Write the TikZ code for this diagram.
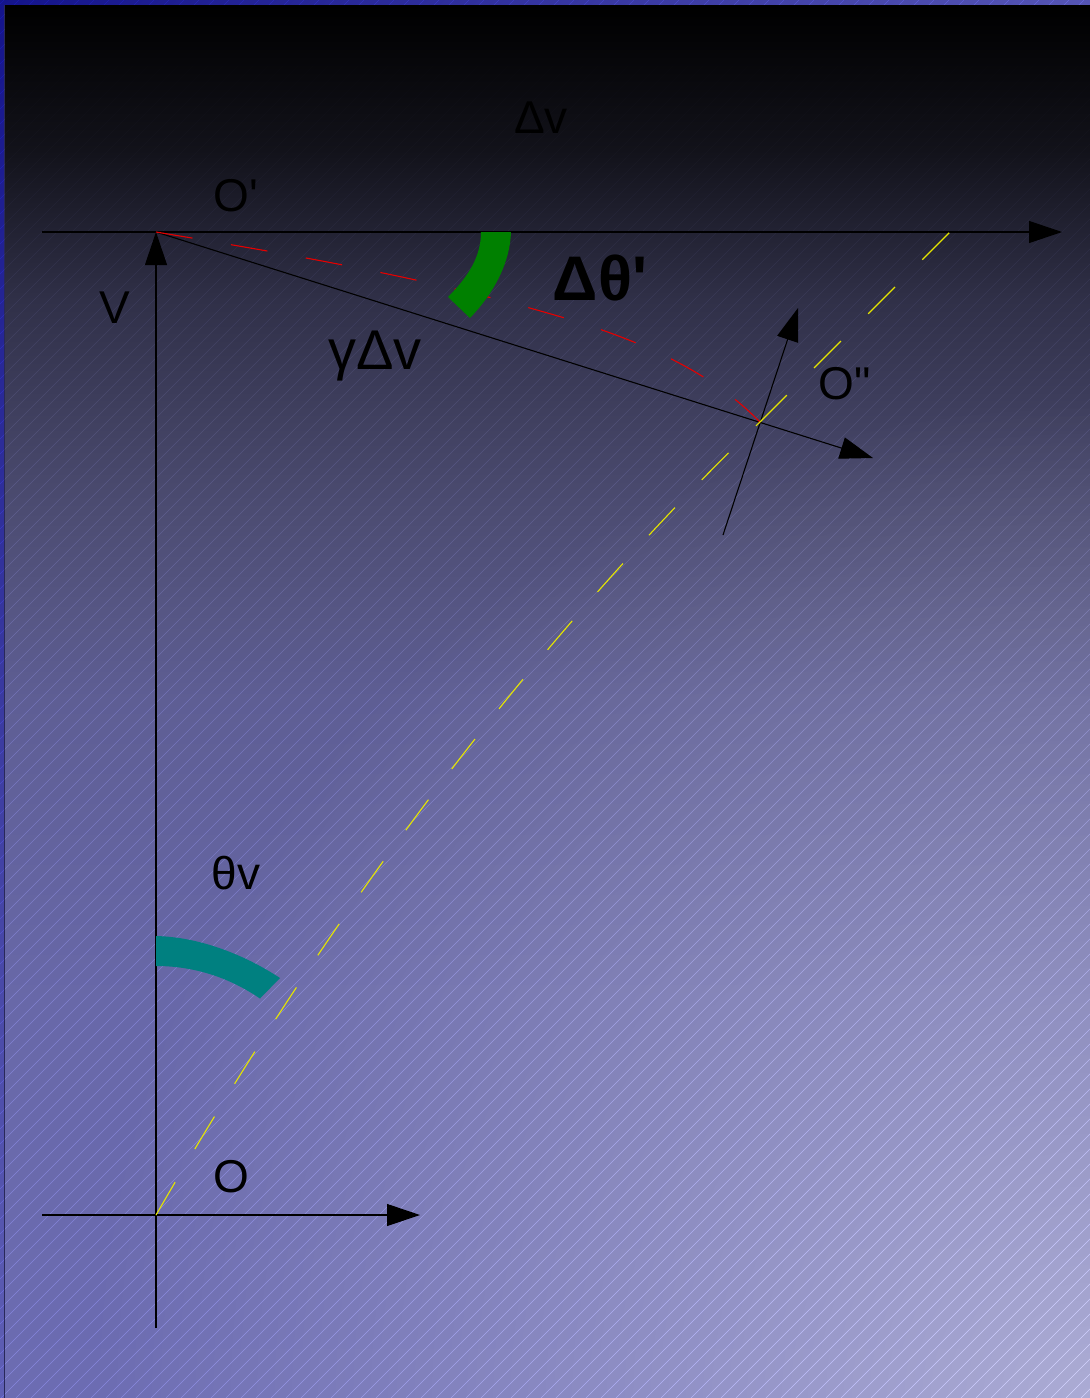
\documentclass[tikz,border=0pt]{standalone}
\usepackage{fontspec}
\newfontfamily\lab{Liberation Sans}
\usetikzlibrary{arrows.meta,fadings,shadings}
\definecolor{frUL}{RGB}{20,20,140}
\definecolor{frUR}{RGB}{85,85,180}
\definecolor{frLL}{RGB}{95,95,180}
\definecolor{frLR}{RGB}{180,180,220}
\definecolor{bgA}{RGB}{0,0,0}
\definecolor{bgAa}{RGB}{18,18,26}
\definecolor{bgB}{RGB}{48,48,72}
\definecolor{bgC}{RGB}{75,75,112}
\definecolor{bgD}{RGB}{85,85,130}
\definecolor{bgE}{RGB}{94,94,148}
\definecolor{bgF}{RGB}{104,104,168}
\definecolor{bgG}{RGB}{108,108,178}
\definecolor{edgec}{RGB}{40,40,90}
\definecolor{hatchc}{gray}{0.2}
\definecolor{lightc}{RGB}{250,250,255}
\definecolor{redc}{RGB}{230,0,0}
\definecolor{yelc}{RGB}{230,230,0}
\definecolor{greenc}{RGB}{0,128,0}
\definecolor{tealc}{RGB}{0,128,128}
\pgfdeclareverticalshading{bgshade}{100bp}{color(0bp)=(bgG); color(25bp)=(bgG); color(39.3bp)=(bgF); color(50.1bp)=(bgE); color(53.6bp)=(bgD); color(57.2bp)=(bgC); color(64.4bp)=(bgB); color(69.8bp)=(bgAa); color(75bp)=(bgA); color(100bp)=(bgA)}
\tikzfading[name=cornerfade, inner color=transparent!55, outer color=transparent!100]
\begin{document}
\begin{tikzpicture}[x=1pt,y=-1pt,
  axisline/.style={line width=1.1pt, draw=black, -{Triangle[length=33pt,width=22pt]}},
  reddash/.style={draw=redc, line width=1.1pt, dash pattern=on 37pt off 39pt},
  yeldash/.style={draw=yelc, line width=1.1pt, dash pattern=on 38pt off 38.5pt},
  hatchline/.style={draw=hatchc, line width=0.6pt},
  lbl/.style={font=\lab\fontsize{46}{50}\selectfont, anchor=base, inner sep=0pt, text=black},
  biglbl/.style={font=\lab\fontsize{56}{60}\selectfont, anchor=base, inner sep=0pt, text=black},
  boldlbl/.style={font=\lab\bfseries\fontsize{63}{67}\selectfont, anchor=base, inner sep=0pt, text=black}]
\useasboundingbox (0,0) rectangle (1090,1398);
% background
\shade[upper left=frUL, upper right=frUR, lower left=frLL, lower right=frLR] (0,0) rectangle (1090,1398);
\shade[shading=bgshade] (4,5) rectangle (1090,1398);
\begin{scope}
  \clip (4,5) rectangle (1090,1398);
  \fill[lightc, path fading=cornerfade] (1090,1398) circle (1000);
\end{scope}
\draw[edgec, line width=1pt] (4.5,5) -- (4.5,1398);
\begin{scope}[blend mode=color dodge]
  \clip (0,0) rectangle (1090,1398);
  \foreach \c in {4,19,...,2494} \draw[hatchline] (\c,0) -- ({\c-1398},1398);
\end{scope}
% points
\coordinate (Op) at (156,232);
\coordinate (Opp) at (760,422);
\coordinate (O) at (156,1215);
\coordinate (topL) at (42,232);
\coordinate (topR) at (1062,232);
\coordinate (vB) at (156,1328);
\coordinate (bL) at (42,1215);
\coordinate (bR) at (420,1215);
\coordinate (xpp) at (873,458);
\coordinate (ypp1) at (723,535);
\coordinate (ypp2) at (798,308);
\coordinate (yTop) at (950,232);
% axes
\draw[axisline] (topL) -- (topR);
\draw[axisline] (vB) -- (Op);
\draw[axisline] (bL) -- (bR);
\draw[axisline] (Op) -- (xpp);
\draw[axisline] (ypp1) -- (ypp2);
% dashed curves
\draw[reddash] (Op) .. controls (293,255) and (431,278) .. (568,319) .. controls (688,355) and (735,397) .. (Opp);
\draw[yeldash] (O) .. controls (323.5,925) and (519,654.7) .. (Opp);
\draw[yeldash] (Opp) -- (yTop);
% angle bands
\fill[greenc] (511,232) .. controls (510,262) and (495,292) .. (470,318) -- (448,297) .. controls (470,275) and (481,255) .. (481,232) -- cycle;
\fill[tealc] (156,936) .. controls (200,937) and (245,955) .. (280,978) -- (260,998.5) .. controls (230,978) and (195,966) .. (156,966) -- cycle;
% labels
\node[lbl] (ldv) at (541,133) {Δv};
\node[lbl] (lOp) at (236,211) {O'};
\node[lbl] (lV) at (115,323) {V};
\node[boldlbl] (ldth) at (600,300) {Δθ'};
\node[biglbl] (lgdv) at (375,369) {γΔv};
\node[lbl] (lOpp) at (845,399) {O"};
\node[lbl] (lthv) at (236,889) {θv};
\node[lbl] (lO) at (231,1192) {O};
\end{tikzpicture}
\end{document}
